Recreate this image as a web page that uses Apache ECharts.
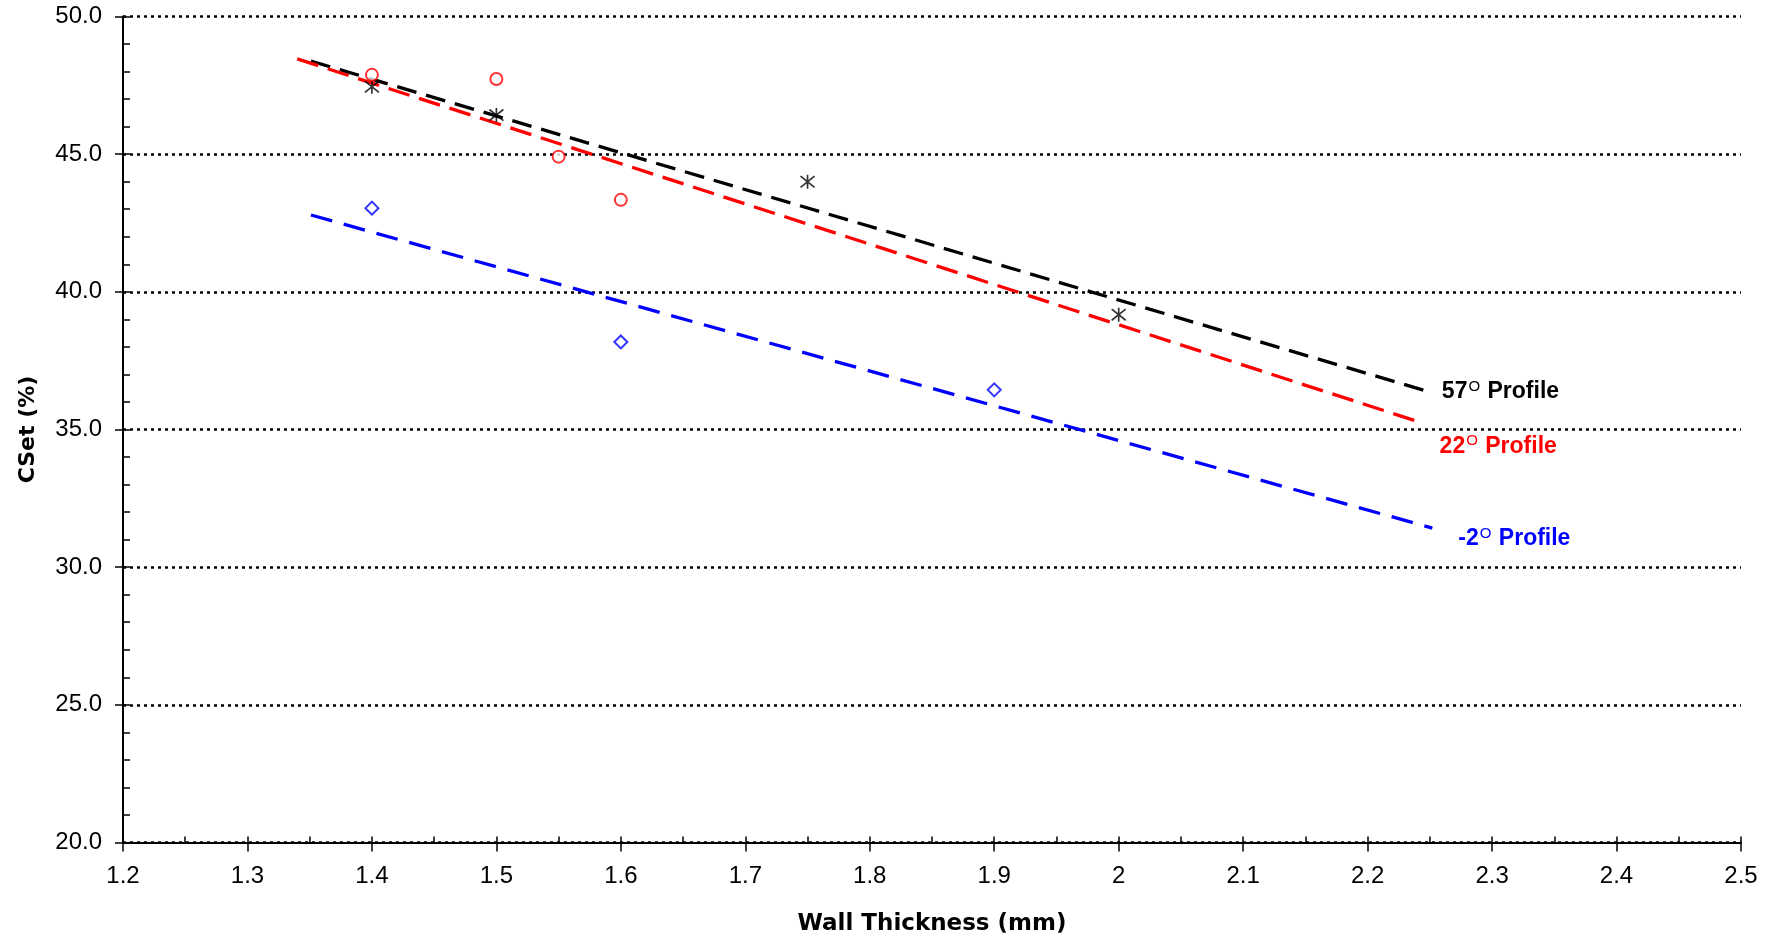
<!DOCTYPE html>
<html><head><meta charset="utf-8">
<script src="https://cdn.jsdelivr.net/npm/echarts@6/dist/echarts.min.js"></script>
<style>html,body{margin:0;padding:0;background:#fff}#chart{width:1775px;height:941px}</style>
</head><body><div id="chart"></div>
<script>
// ---- data ----
const xMin = 1.2, xMax = 2.5, xMajor = 0.1, xMinor = 0.05;
const yMin = 20, yMax = 50, yMajor = 5, yMinor = 1;

const thick57 = [1.4, 1.5, 1.75, 2.0];
const cset57  = [47.45, 46.42, 44.0, 39.17];
const thick22 = [1.4, 1.5, 1.55, 1.6];
const cset22  = [47.88, 47.73, 44.91, 43.34];
const thickM2 = [1.4, 1.6, 1.9];
const csetM2  = [43.04, 38.18, 36.44];

const trend57X = [1.351, 2.25];  const trend57Y = [48.38, 36.36];
const trend22X = [1.34, 2.245];  const trend22Y = [48.46, 35.22];
const trendM2X = [1.351, 2.252]; const trendM2Y = [42.79, 31.42];

const angleLabels = ['57', '22', '-2'];
const xName = 'Wall Thickness (mm)';
const yName = 'CSet (%)';

// ---- chart ----
const zip = (xs, ys) => xs.map((x, i) => [x, ys[i]]);
const asterisk = 'path://M0,-1L0,1M-0.8,-0.8L0.8,0.8M-0.8,0.8L0.8,-0.8';
const FONT = 'Liberation Sans, Arial, sans-serif';

function endLab(txt, color, dist, dy) {
  return {
    show: true,
    distance: dist,
    offset: [0, dy],
    formatter: '{a|' + txt + '}{s|O}{a| Profile}',
    rich: {
      a: { fontFamily: FONT, fontWeight: 'bold', fontSize: 23, color: color, lineHeight: 26 },
      s: { fontFamily: FONT, fontWeight: 'normal', fontSize: 15, color: color, verticalAlign: 'top', lineHeight: 14, padding: [0, 1, 0, 1] }
    }
  };
}

function trend(xs, ys, color, dash, lab) {
  return {
    type: 'line', xAxisIndex: 0, yAxisIndex: 0,
    data: zip(xs, ys), showSymbol: false, symbol: 'none', silent: true,
    lineStyle: { color: color, width: 3.3, type: dash },
    endLabel: lab, z: 3
  };
}

const chart = echarts.init(document.getElementById('chart'), null, { renderer: 'canvas' });
chart.setOption({
  animation: false,
  backgroundColor: '#fff',
  grid: { left: 123, right: 34, top: 16.5, bottom: 98.3, containLabel: false },
  xAxis: [{
    type: 'value', min: xMin, max: xMax, interval: xMajor,
    name: xName, nameLocation: 'middle', nameGap: 82,
    nameTextStyle: { fontFamily: 'DejaVu Sans', fontWeight: 'bold', fontSize: 23, color: '#000', verticalAlign: 'middle' },
    axisLine: { show: true, lineStyle: { color: '#000', width: 2 } },
    axisTick: { show: true, inside: false, length: 9, lineStyle: { color: '#000', width: 1.5 } },
    axisLabel: { fontFamily: FONT, fontSize: 24, color: '#000', margin: 22 },
    splitLine: { show: false }
  }, {
    type: 'value', min: xMin, max: xMax, interval: xMinor, position: 'bottom',
    axisLine: { show: false },
    axisTick: { show: true, inside: true, length: 6, lineStyle: { color: '#000', width: 1.5 } },
    axisLabel: { show: false }, splitLine: { show: false }
  }],
  yAxis: [{
    type: 'value', min: yMin, max: yMax, interval: yMajor,
    name: yName, nameLocation: 'middle', nameGap: 95, nameRotate: 90,
    nameTextStyle: { fontFamily: 'DejaVu Sans', fontWeight: 'bold', fontSize: 22, color: '#000', verticalAlign: 'middle' },
    axisLine: { show: true, lineStyle: { color: '#000', width: 2 } },
    axisTick: { show: true, inside: false, length: 8, lineStyle: { color: '#000', width: 1.5 } },
    axisLabel: { fontFamily: FONT, fontSize: 24, color: '#000', margin: 21, formatter: v => v.toFixed(1) },
    splitLine: { show: true, lineStyle: { color: '#000', width: 2.5, type: [3, 4] } }
  }, {
    type: 'value', min: yMin, max: yMax, interval: yMinor, position: 'left',
    axisLine: { show: false },
    axisTick: { show: true, inside: true, length: 7, lineStyle: { color: '#000', width: 1.5 } },
    axisLabel: { show: false }, splitLine: { show: false }
  }],
  series: [
    trend(trend57X, trend57Y, '#000000', [20, 10], endLab(angleLabels[0], '#000000', 12, 0)),
    trend(trend22X, trend22Y, '#ff0000', [22, 10], endLab(angleLabels[1], '#ff0000', 16, 23)),
    trend(trendM2X, trendM2Y, '#0000ff', [22, 12], endLab(angleLabels[2], '#0000ff', 26, 11)),
    { type: 'scatter', xAxisIndex: 0, yAxisIndex: 0, data: zip(thick57, cset57), symbol: asterisk, symbolSize: 14,
      itemStyle: { color: 'transparent', borderColor: '#000', borderWidth: 1.7 }, silent: true, z: 4 },
    { type: 'scatter', xAxisIndex: 0, yAxisIndex: 0, data: zip(thick22, cset22), symbol: 'emptyCircle', symbolSize: 12,
      itemStyle: { color: '#ff0000', borderColor: '#ff0000', borderWidth: 1.5 }, silent: true, z: 4 },
    { type: 'scatter', xAxisIndex: 0, yAxisIndex: 0, data: zip(thickM2, csetM2), symbol: 'emptyDiamond', symbolSize: 13,
      itemStyle: { color: '#0000ff', borderColor: '#0000ff', borderWidth: 1.5 }, silent: true, z: 4 }
  ]
});
</script></body></html>
